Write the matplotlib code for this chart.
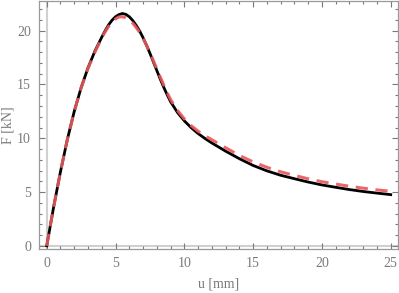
import matplotlib
matplotlib.use("Agg")
import matplotlib.pyplot as plt
from matplotlib.ticker import MultipleLocator

# measured (black, solid) and model (red, dashed) load-displacement curves
u = [0, 0.5, 1, 1.5, 2, 2.5, 3, 3.5, 4, 4.25, 4.5, 4.75, 5, 5.25, 5.5, 5.75,
     6, 6.25, 6.5, 6.75, 7, 7.25, 7.5, 7.75, 8, 8.25, 8.5, 8.75, 9, 9.5, 10,
     10.5, 11, 11.5, 12, 13, 14, 15, 16, 17, 18, 19, 20, 21, 22, 23, 24, 25]
F_meas = [0, 3.6, 6.9, 9.9, 12.5, 14.7, 16.55, 18.1, 19.4, 20.0, 20.55, 20.98,
          21.3, 21.5, 21.6, 21.52, 21.3, 20.95, 20.5, 19.98, 19.35, 18.65,
          17.9, 17.1, 16.3, 15.5, 14.75, 14.05, 13.4, 12.4, 11.62, 10.98,
          10.44, 9.98, 9.56, 8.8, 8.1, 7.47, 6.97, 6.56, 6.24, 5.93, 5.66,
          5.44, 5.23, 5.05, 4.9, 4.76]
F_model = [0, 3.6, 6.9, 9.9, 12.5, 14.7, 16.5, 18.0, 19.35, 19.9, 20.4, 20.8,
           21.1, 21.28, 21.3, 21.2, 21.0, 20.7, 20.3, 19.85, 19.3, 18.65,
           17.95, 17.2, 16.45, 15.7, 14.95, 14.25, 13.6, 12.6, 11.8, 11.17,
           10.66, 10.23, 9.86, 9.12, 8.4, 7.8, 7.3, 6.88, 6.55, 6.23, 5.96,
           5.74, 5.54, 5.36, 5.2, 5.07]

plt.rcParams['font.family'] = ['Liberation Serif', 'DejaVu Serif']
gray = '#7a7a7a'

fig = plt.figure(figsize=(3.99, 2.93), dpi=100)
ax = fig.add_axes([0.0985, 0.150, 0.898, 0.848])

ax.axhline(0, color='#d0d0d0', lw=1.5, zorder=1)
ax.axvline(0, color='#d0d0d0', lw=1.5, zorder=1)

ax.plot(u, F_meas, color='black', lw=2.0, zorder=3, solid_joinstyle='round')
ax.plot(u, F_model, color='#e8585c', lw=2.2, ls=(0, (4, 2.5)), alpha=0.9,
        zorder=4)

ax.set_xlim(-0.54, 25.5)
ax.set_ylim(-0.3, 22.8)
ax.xaxis.set_major_locator(MultipleLocator(5))
ax.xaxis.set_minor_locator(MultipleLocator(1))
ax.yaxis.set_major_locator(MultipleLocator(5))
ax.yaxis.set_minor_locator(MultipleLocator(1))
ax.tick_params(which='both', direction='in', top=True, right=True,
               color=gray, labelcolor=gray, labelsize=10, width=0.8)
ax.tick_params(which='major', length=4, pad=6)
ax.tick_params(which='minor', length=2.5)
for s in ax.spines.values():
    s.set_color('#999999')
    s.set_linewidth(0.9)

ax.set_xlabel('u [mm]', color=gray, fontsize=10, labelpad=5)
ax.set_ylabel('F [kN]', color=gray, fontsize=10, labelpad=2)

fig.savefig('out.png', dpi=100)
